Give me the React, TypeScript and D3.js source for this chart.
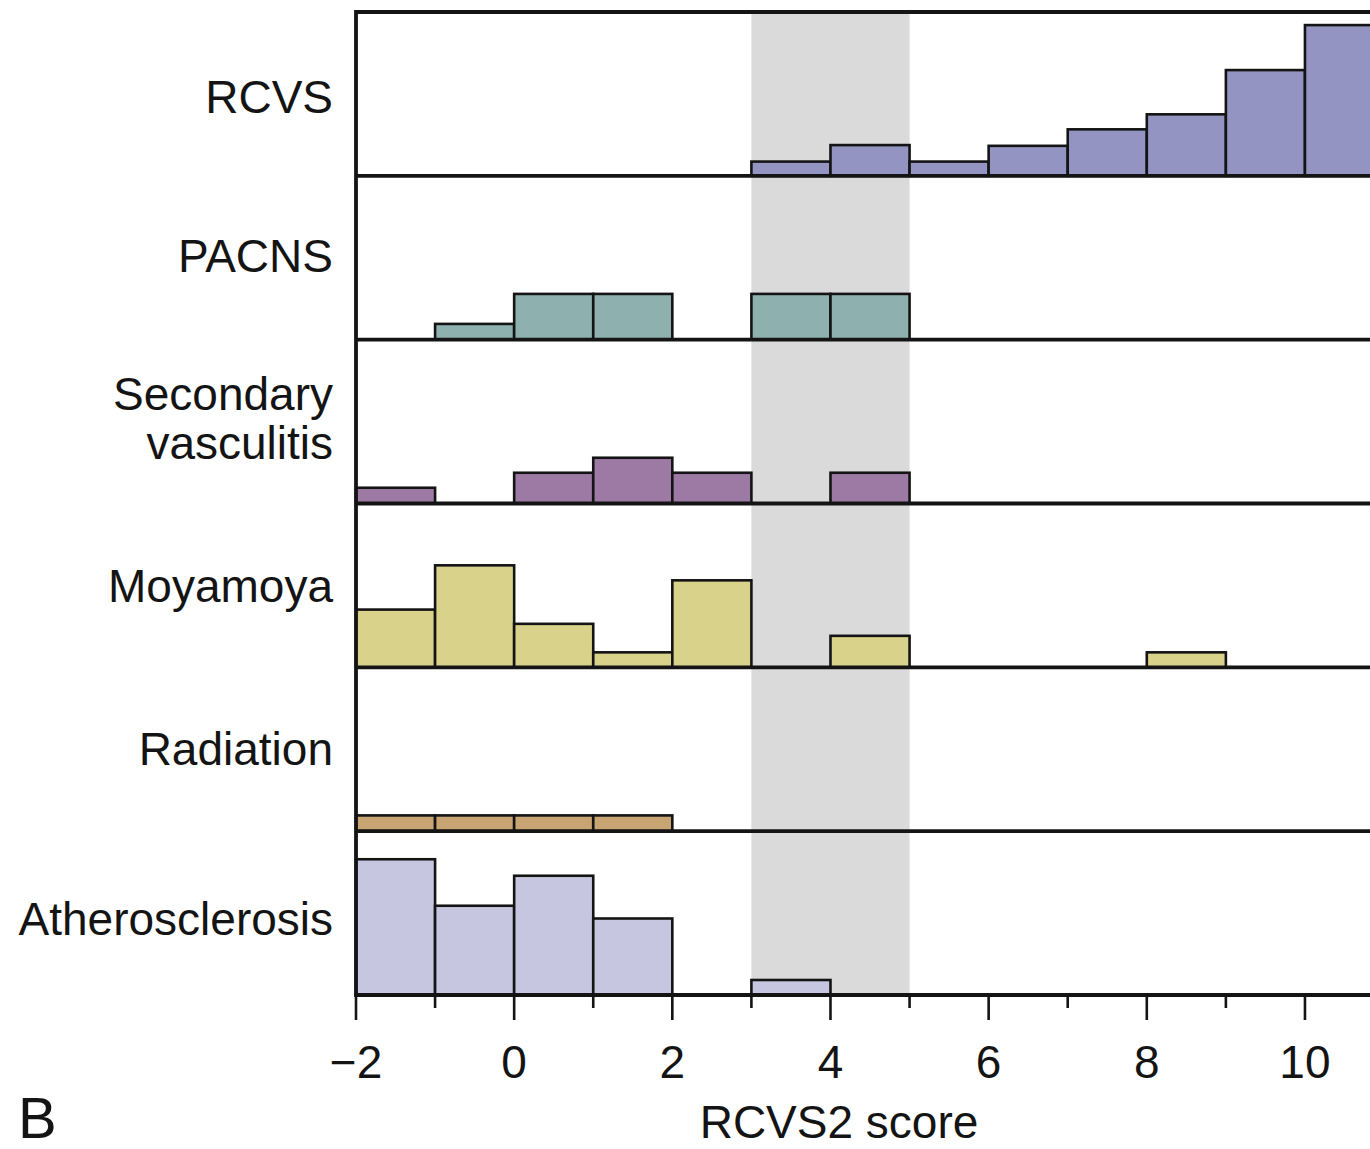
import React from 'react';
import * as d3 from 'd3';

// histogram bins: left edge of each 1-wide bin
const binStarts = [-2, -1, 0, 1, 2, 3, 4, 5, 6, 7, 8, 9, 10];

const groups = ['RCVS', 'PACNS', 'Secondary vasculitis', 'Moyamoya', 'Radiation', 'Atherosclerosis'];

const rcvs = [0, 0, 0, 0, 0, 0.95, 2.05, 0.95, 2.0, 3.1, 4.1, 7.05, 10.05];
const pacns = [0, 1.05, 3.05, 3.05, 0, 3.05, 3.05, 0, 0, 0, 0, 0, 0];
const secondary = [1.05, 0, 2.05, 3.05, 2.05, 0, 2.05, 0, 0, 0, 0, 0, 0];
const moyamoya = [3.85, 6.8, 2.9, 1.0, 5.8, 0, 2.1, 0, 0, 0, 1.0, 0, 0];
const radiation = [1.05, 1.05, 1.05, 1.05, 0, 0, 0, 0, 0, 0, 0, 0, 0];
const athero = [9.05, 5.95, 7.95, 5.1, 0, 1.0, 0, 0, 0, 0, 0, 0, 0];

const seriesValues = [rcvs, pacns, secondary, moyamoya, radiation, athero];
const colors = ['#9394c1', '#8eb0ae', '#9d7aa3', '#d9d28a', '#c9a473', '#c6c6e0'];

const majorTicks = [-2, 0, 2, 4, 6, 8, 10];
const minorTicks = [-1, 1, 3, 5, 7, 9];
const grayBand = [3, 5];

const App = () => {
  const width = 1370;
  const height = 1149;
  const font = '"Liberation Sans", Arial, Helvetica, sans-serif';
  const ink = '#141414';
  const margin = { top: 12, left: 356, bottom: 995 };
  // small vertical nudges so the row labels sit where the original has them
  const labelNudge = [3, -2, -4, 0, -1, 5];

  const xScale = d3
    .scaleLinear()
    .domain([-2, 11])
    .range([margin.left, margin.left + 13 * 79.08]);

  const band = d3
    .scaleBand()
    .domain(groups)
    .range([margin.top, margin.bottom])
    .paddingInner(0)
    .paddingOuter(0);

  const panelH = band.bandwidth();

  const yScale = d3.scaleLinear().domain([0, panelH / 15]).range([panelH, 0]);

  const fmt = (d: number) => (d < 0 ? `\u2212${Math.abs(d)}` : `${d}`);

  return (
    <svg
      width={width}
      height={height}
      style={{ position: 'absolute', left: 0, top: 0, background: '#fff' }}
    >
      {/* shaded zone */}
      <rect
        x={xScale(grayBand[0])}
        y={margin.top}
        width={xScale(grayBand[1]) - xScale(grayBand[0])}
        height={margin.bottom - margin.top}
        fill='#dadada'
      />

      {groups.map((g, gi) => {
        const top = band(g) as number;
        const vals = seriesValues[gi];
        const lines = g === 'Secondary vasculitis' ? ['Secondary', 'vasculitis'] : [g];
        return (
          <g key={g}>
            {binStarts.map((b, i) =>
              vals[i] > 0 ? (
                <rect
                  key={`bar-${g}-${b}`}
                  x={xScale(b)}
                  y={top + yScale(vals[i])}
                  width={xScale(b + 1) - xScale(b)}
                  height={panelH - yScale(vals[i])}
                  fill={colors[gi]}
                  stroke={ink}
                  strokeWidth={2.6}
                />
              ) : null
            )}
            <line
              x1={margin.left}
              x2={width + 10}
              y1={top + panelH}
              y2={top + panelH}
              stroke={ink}
              strokeWidth={3.8}
            />
            {lines.map((t, li) => (
              <text
                key={t}
                x={333}
                y={top + panelH / 2 + labelNudge[gi] + (li - (lines.length - 1) / 2) * 49}
                dy='0.36em'
                textAnchor='end'
                fontFamily={font}
                fontSize={46}
                fill={ink}
              >
                {t}
              </text>
            ))}
          </g>
        );
      })}

      {/* frame */}
      <line x1={margin.left} x2={width + 10} y1={margin.top} y2={margin.top} stroke={ink} strokeWidth={3.8} />
      <line x1={margin.left} x2={margin.left} y1={margin.top - 1.9} y2={margin.bottom + 1.9} stroke={ink} strokeWidth={3.8} />

      {/* x axis */}
      {majorTicks.map(t => (
        <g key={`maj-${t}`}>
          <line x1={xScale(t)} x2={xScale(t)} y1={margin.bottom} y2={1020} stroke={ink} strokeWidth={2.6} />
          <text
            x={xScale(t)}
            y={1078}
            textAnchor='middle'
            fontFamily={font}
            fontSize={46}
            fill={ink}
          >
            {fmt(t)}
          </text>
        </g>
      ))}
      {minorTicks.map(t => (
        <line key={`min-${t}`} x1={xScale(t)} x2={xScale(t)} y1={margin.bottom} y2={1008} stroke={ink} strokeWidth={2.6} />
      ))}
      <text x={839} y={1138} textAnchor='middle' fontFamily={font} fontSize={46} fill={ink}>
        RCVS2 score
      </text>
      <text x={18} y={1138} fontFamily={font} fontSize={58} fill={ink}>
        B
      </text>
    </svg>
  );
};

export default App;
